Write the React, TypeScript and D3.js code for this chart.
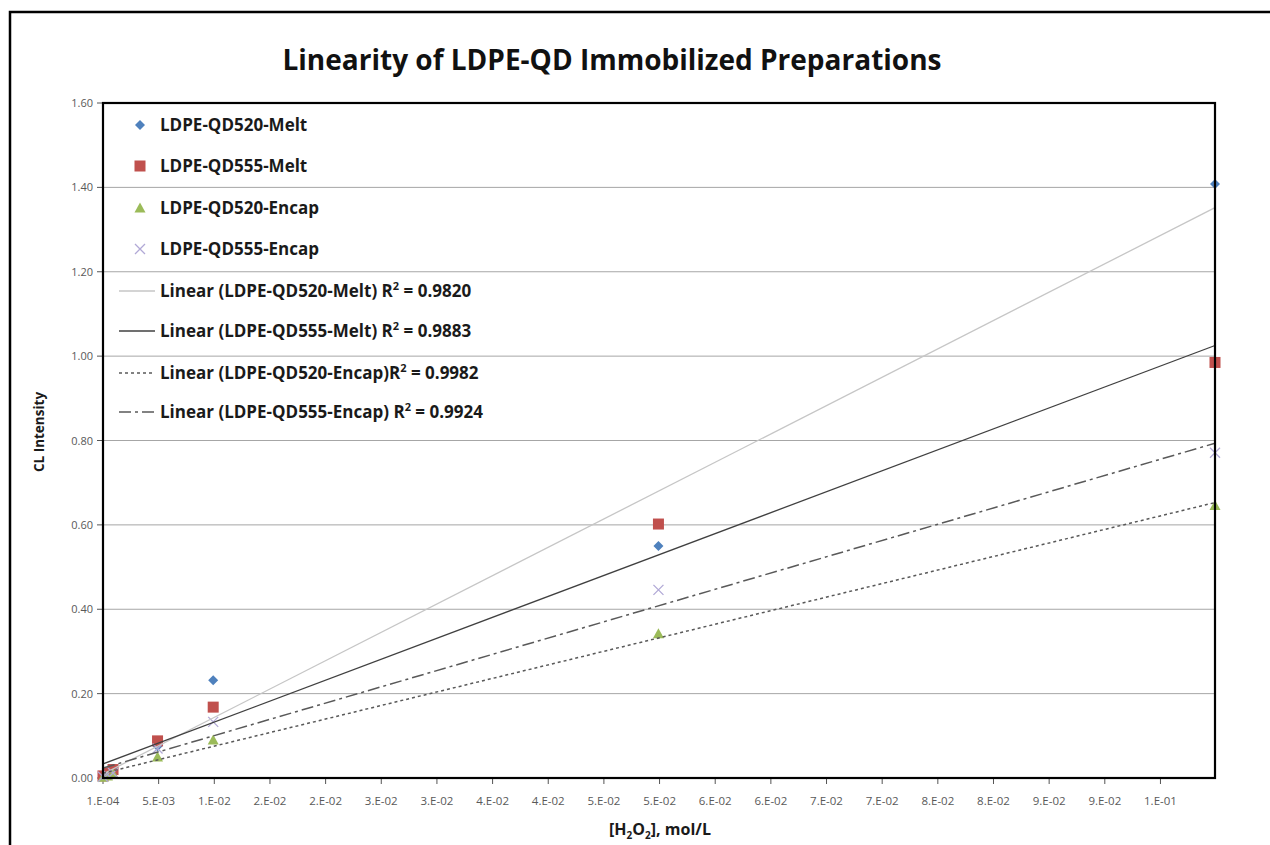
import React from "react";
import * as d3 from "d3";

// concentrations (mol/L)
const conc = [0.0001, 0.0005, 0.001, 0.005, 0.01, 0.05, 0.1];

const qd520Melt = [0.005, 0.01, 0.015, 0.075, 0.232, 0.55, 1.408];
const qd555Melt = [0.005, 0.012, 0.02, 0.088, 0.168, 0.602, 0.985];
const qd520Encap = [0.002, 0.005, 0.01, 0.05, 0.09, 0.342, 0.646];
const qd555Encap = [0.003, 0.008, 0.012, 0.07, 0.133, 0.446, 0.771];

const seriesNames = ["LDPE-QD520-Melt", "LDPE-QD555-Melt", "LDPE-QD520-Encap", "LDPE-QD555-Encap"];
const trendNames = [
  "Linear (LDPE-QD520-Melt) ",
  "Linear (LDPE-QD555-Melt) ",
  "Linear (LDPE-QD520-Encap)",
  "Linear (LDPE-QD555-Encap) ",
];
const rSquared = ["0.9820", "0.9883", "0.9982", "0.9924"];

const xTickLabels = [
  "1.E-04", "5.E-03", "1.E-02", "2.E-02", "2.E-02", "3.E-02", "3.E-02", "4.E-02", "4.E-02", "5.E-02",
  "5.E-02", "6.E-02", "6.E-02", "7.E-02", "7.E-02", "8.E-02", "8.E-02", "9.E-02", "9.E-02", "1.E-01",
];
const yTicks = [0, 0.2, 0.4, 0.6, 0.8, 1.0, 1.2, 1.4, 1.6];

const FONT = "'Open Sans', Lato, sans-serif";

const colors = ["#4F81BD", "#C0504D", "#9BBB59", "#B1A9D6"];
const trendStyle = [
  { stroke: "#C6C6C6", dash: "none", width: 1.3 },
  { stroke: "#404040", dash: "none", width: 1.3 },
  { stroke: "#595959", dash: "3,3", width: 1.5 },
  { stroke: "#595959", dash: "12,4,3,4", width: 1.5 },
];

function fit(xs: number[], ys: number[]) {
  const mx = d3.mean(xs)!;
  const my = d3.mean(ys)!;
  const sxy = d3.sum(xs, (x, i) => (x - mx) * (ys[i] - my));
  const sxx = d3.sum(xs, (x) => (x - mx) * (x - mx));
  const slope = sxy / sxx;
  return { slope, intercept: my - slope * mx };
}

function Marker({ kind, x, y, color }: { kind: number; x: number; y: number; color: string }) {
  if (kind === 0) {
    const r = 5;
    return <path d={`M${x},${y - r}L${x + r},${y}L${x},${y + r}L${x - r},${y}Z`} fill={color} />;
  }
  if (kind === 1) {
    return <rect x={x - 5.5} y={y - 5.5} width={11} height={11} fill={color} />;
  }
  if (kind === 2) {
    return <path d={`M${x},${y - 5.5}L${x + 5.5},${y + 4.5}L${x - 5.5},${y + 4.5}Z`} fill={color} />;
  }
  return (
    <path d={`M${x - 5},${y - 5}L${x + 5},${y + 5}M${x + 5},${y - 5}L${x - 5},${y + 5}`} stroke={color} strokeWidth={1.3} />
  );
}

export default function App() {
  const left = 103, right = 1215, top = 103, bottom = 778;
  const x = d3.scaleLinear().domain([0.0001, 0.1]).range([left, right]);
  const y = d3.scaleLinear().domain([0, 1.6]).range([bottom, top]);

  const all = [qd520Melt, qd555Melt, qd520Encap, qd555Encap];
  const xTicks = xTickLabels.map((_, i) => 0.0001 + i * 0.005);
  const x0 = d3.min(conc)!, x1 = d3.max(conc)!;

  const legendY = [125, 166, 208, 249, 291, 331, 373, 412];

  return (
    <svg width={1270} height={845} style={{ position: "absolute", left: 0, top: 0, background: "#fff" }} fontFamily={FONT}>
      <rect x={10} y={12} width={1400} height={1000} fill="#fff" stroke="#000" strokeWidth={2.5} />

      <text x={612} y={70} textAnchor="middle" fontSize={28} fontWeight="bold" fill="#111">
        Linearity of LDPE-QD Immobilized Preparations
      </text>

      {/* gridlines */}
      {yTicks.slice(1, -1).map((t) => (
        <line key={t} x1={left} x2={right} y1={y(t)} y2={y(t)} stroke="#A6A6A6" strokeWidth={1} />
      ))}

      {/* y axis ticks and labels */}
      {yTicks.map((t) => (
        <g key={t}>
          <line x1={left - 6} x2={left} y1={y(t)} y2={y(t)} stroke="#555" strokeWidth={1} />
          <text x={left - 10} y={y(t) + 4} textAnchor="end" fontSize={11} fill="#595959">
            {d3.format(".2f")(t)}
          </text>
        </g>
      ))}

      {/* x axis ticks and labels */}
      {xTicks.map((t, i) => (
        <g key={i}>
          <line x1={x(t)} x2={x(t)} y1={bottom} y2={bottom + 6} stroke="#555" strokeWidth={1} />
          <text x={x(t)} y={bottom + 27} textAnchor="middle" fontSize={11.5} fill="#595959">
            {xTickLabels[i]}
          </text>
        </g>
      ))}

      {/* points */}
      {all.map((vals, s) =>
        vals.map((v, i) => <Marker key={`${s}-${i}`} kind={s} x={x(conc[i])} y={y(v)} color={colors[s]} />)
      )}

      {/* linear trend lines */}
      {all.map((vals, s) => {
        const f = fit(conc, vals);
        return (
          <line
            key={s}
            x1={x(x0)}
            y1={y(f.intercept + f.slope * x0)}
            x2={x(x1)}
            y2={y(f.intercept + f.slope * x1)}
            stroke={trendStyle[s].stroke}
            strokeWidth={trendStyle[s].width}
            strokeDasharray={trendStyle[s].dash}
          />
        );
      })}

      {/* plot frame */}
      <rect x={left} y={top} width={right - left} height={bottom - top} fill="none" stroke="#000" strokeWidth={2.2} />

      {/* legend */}
      {seriesNames.map((name, s) => (
        <g key={name}>
          <Marker kind={s} x={140} y={legendY[s]} color={colors[s]} />
          <text x={160} y={legendY[s] + 6} fontSize={17} fontWeight="bold" fill="#1a1a1a">
            {name}
          </text>
        </g>
      ))}
      {trendNames.map((name, s) => (
        <g key={name}>
          <line
            x1={119}
            x2={155}
            y1={legendY[s + 4]}
            y2={legendY[s + 4]}
            stroke={trendStyle[s].stroke}
            strokeWidth={trendStyle[s].width}
            strokeDasharray={trendStyle[s].dash}
          />
          <text x={160} y={legendY[s + 4] + 6} fontSize={17} fontWeight="bold" fill="#1a1a1a" xmlSpace="preserve">
            {name}R
            <tspan fontSize={11} dy={-7}>2</tspan>
            <tspan dy={7}>{` = ${rSquared[s]}`}</tspan>
          </text>
        </g>
      ))}

      {/* axis titles */}
      <text transform="translate(44,432) rotate(-90)" textAnchor="middle" fontSize={13.5} fontWeight="bold" fill="#1a1a1a">
        CL Intensity
      </text>
      <text x={660} y={835} textAnchor="middle" fontSize={16} fontWeight="bold" fill="#1a1a1a">
        [H<tspan fontSize={10} dy={4}>2</tspan>
        <tspan dy={-4}>O</tspan>
        <tspan fontSize={10} dy={4}>2</tspan>
        <tspan dy={-4}>], mol/L</tspan>
      </text>
    </svg>
  );
}
